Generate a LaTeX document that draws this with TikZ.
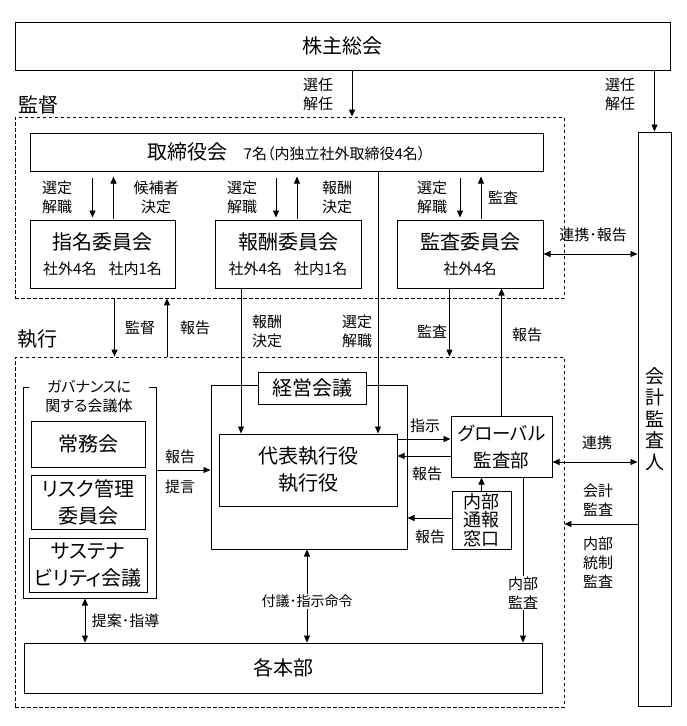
\documentclass[tikz,border=0pt]{standalone}
\usepackage{fontspec}
\setmainfont{Noto Sans CJK JP}[RawFeature=+palt]
\usetikzlibrary{arrows.meta,calc}
\newcommand\fbig{\fontsize{20}{27}\selectfont}
\newcommand\fmid{\fontsize{18.5}{27}\selectfont}
\newcommand\fsmall{\fontsize{15}{19}\selectfont}
\newcommand\fname{\fontsize{14}{18}\selectfont}

\begin{document}
\begin{tikzpicture}[x=1pt,y=-1pt,>={Triangle[length=7pt,width=6pt]},
  every node/.style={font=\fsmall},
  box/.style={draw,line width=1pt,inner sep=0pt,align=center,font=\fbig},
  area/.style={draw,line width=0.8pt,dash pattern=on 3.5pt off 2.5pt,inner sep=0pt},
  lbl/.style={align=center,inner sep=1pt,font=\fsmall},
  link/.style={->,line width=0.9pt}]
  \useasboundingbox (0,0) rectangle (687,726);
  % shareholders and accounting auditor
  \node[box,minimum width=655pt,minimum height=48pt] (gm) at (342.5,46) {株主総会};
  \node[box,font=\fontsize{19}{21.5}\selectfont,minimum width=33pt,minimum height=574pt] (auditor) at (654.5,419) {会\\計\\監\\査\\人};
  % areas
  \node[area,minimum width=549pt,minimum height=181pt] (supv) at (289.5,207.5) {};
  \node[area,minimum width=549pt,minimum height=350pt] (exe) at (289.5,532) {};
  \node[font=\fbig] at (38,105) {監督};
  \node[font=\fbig] at (37,339) {執行};
  % board and committees
  \node[box,minimum width=513pt,minimum height=38pt] (board) at (286.5,152) {取締役会\hspace{16pt}{\fontsize{15}{18}\selectfont 7名（内独立社外取締役4名）}};
  \node[box,minimum width=145pt,minimum height=68pt] (nom) at (102.5,254) {指名委員会\\[-2pt]{\fsmall 社外4名\hspace{12pt}社内1名}};
  \node[box,minimum width=146pt,minimum height=68pt] (rem) at (288,254) {報酬委員会\\[-2pt]{\fsmall 社外4名\hspace{12pt}社内1名}};
  \node[box,minimum width=146pt,minimum height=68pt] (aud) at (470,254) {監査委員会\\[-2pt]{\fsmall 社外4名}};
  \foreach \c/\ux/\dx in {nom/11/-10, rem/9/-12, aud/11/-10}{
    \draw[link,shorten <=6pt,shorten >=2pt] ([xshift=\dx pt]\c.north |- board.south) -- ([xshift=\dx pt]\c.north);
    \draw[link,shorten <=1pt,shorten >=5pt] ([xshift=\ux pt]\c.north) -- ([xshift=\ux pt]\c.north |- board.south);
  }
  \node[lbl] at (57,197.5) {選定\\解職};
  \node[lbl] at (156,197.5) {候補者\\決定};
  \node[lbl] at (242,197.5) {選定\\解職};
  \node[lbl] at (337,197.5) {報酬\\決定};
  \node[lbl] at (432,197.5) {選定\\解職};
  \node[lbl] at (503,198) {監査};
  % election
  \draw[link] ([xshift=9.5pt]gm.south) -- ([xshift=9.5pt]gm.south |- supv.north);
  \node[lbl] at (318,94) {選任\\解任};
  \draw[link] (auditor.north |- gm.south) -- (auditor.north);
  \node[lbl] at (620,94) {選任\\解任};
  \draw[<->,line width=0.9pt] (aud.east) -- (aud.east -| auditor.west);
  \node[lbl] at (593,235) {連携･報告};
  % execution side
  \node[draw,line width=1pt,minimum width=196pt,minimum height=164pt] (mgmt) at (309,467) {};
  \node[box,fill=white,minimum width=108pt,minimum height=32pt] (mgmtlbl) at (312,388) {経営会議};
  \node[box,minimum width=178pt,minimum height=72pt] (exec) at (308,470) {代表執行役\\執行役};
  \node[draw,line width=1pt,minimum width=133pt,minimum height=211pt] (gov) at (89.5,492.5) {};
  \node[lbl,fill=white,inner xsep=16pt] at (89,396.5) {ガバナンスに\\関する会議体};
  \node[box,minimum width=114pt,minimum height=46pt] (jomu) at (88,444) {常務会};
  \node[box,minimum width=114pt,minimum height=54pt] (risk) at (88,502) {リスク管理\\委員会};
  \node[box,minimum width=118pt,minimum height=54pt] (sust) at (88,565) {サステナ\\ビリティ会議};
  \draw[link] (exec.west -| gov.east) -- (exec.west -| mgmt.west);
  \node[lbl] at (180,457) {報告};
  \node[lbl] at (180,487) {提言};
  \node[box,font=\fmid,minimum width=101pt,minimum height=61pt] (glob) at (501.5,446.5) {グローバル\\監査部};
  \node[box,font=\fontsize{18}{18.5}\selectfont,minimum width=59pt,minimum height=58pt] (whistle) at (481.5,520) {内部\\通報\\窓口};
  \draw[link] ([yshift=7.5pt]glob.west -| exec.east) -- ([yshift=7.5pt]glob.west);
  \node[lbl] at (425,426) {指示};
  \draw[link] ([yshift=-9.5pt]glob.west) -- ([yshift=-9.5pt]glob.west -| exec.east);
  \node[lbl] at (427,474) {報告};
  \draw[link] (whistle.north) -- (whistle.north |- glob.south);
  \draw[link] ([yshift=2pt]whistle.west) -- ([yshift=2pt]whistle.west -| mgmt.east);
  \node[lbl] at (430,537) {報告};
  \draw[<->,line width=0.9pt] ([yshift=-15.5pt]glob.east) -- ([yshift=-15.5pt]glob.east -| auditor.west);
  \node[lbl] at (597,443) {連携};
  \draw[link] ([yshift=-4pt]whistle.center -| auditor.west) -- ([yshift=-4pt]whistle.center -| exe.east);
  \node[lbl] at (598,500) {会計\\監査};
  \node[lbl] at (598,563) {内部\\統制\\監査};
  % between supervision and execution
  \draw[link] ([xshift=12pt]nom.south |- supv.south) -- ([xshift=12pt]nom.south |- exe.north);
  \node[lbl] at (140,328) {監督};
  \draw[link] ([xshift=64.5pt]nom.south |- exe.north) -- ([xshift=64.5pt]nom.south |- supv.south);
  \node[lbl] at (195,328) {報告};
  \draw[link] ([xshift=-47pt]rem.south) -- ([xshift=-47pt]rem.south |- exec.north);
  \node[lbl] at (267,331) {報酬\\決定};
  \draw[link] ([xshift=70pt]exec.north |- board.south) -- ([xshift=70pt]exec.north);
  \node[lbl] at (357,331) {選定\\解職};
  \draw[link] ([xshift=-20.5pt]aud.south) -- ([xshift=-20.5pt]aud.south |- exe.north);
  \node[lbl] at (432,332) {監査};
  \draw[link] (glob.north) -- (glob.north |- aud.south);
  \node[lbl] at (527,335) {報告};
  % divisions
  \node[box,minimum width=518pt,minimum height=50pt] (hq) at (283,668) {各本部};
  \draw[<->,line width=0.9pt] ([xshift=-4.5pt]gov.south) -- ([xshift=-4.5pt]gov.south |- hq.north) node[midway,right,xshift=3pt]{提案･指導};
  \draw[<->,line width=0.9pt] ([xshift=-2pt]mgmt.south) -- ([xshift=-2pt]mgmt.south |- hq.north) node[pos=0.56,lbl,fill=white,font=\fname]{付議･指示命令};
  \draw[link] ([xshift=21.5pt]glob.south) -- ([xshift=21.5pt]glob.south |- hq.north) node[pos=0.7,lbl,fill=white]{内部\\監査};
\end{tikzpicture}
\end{document}
